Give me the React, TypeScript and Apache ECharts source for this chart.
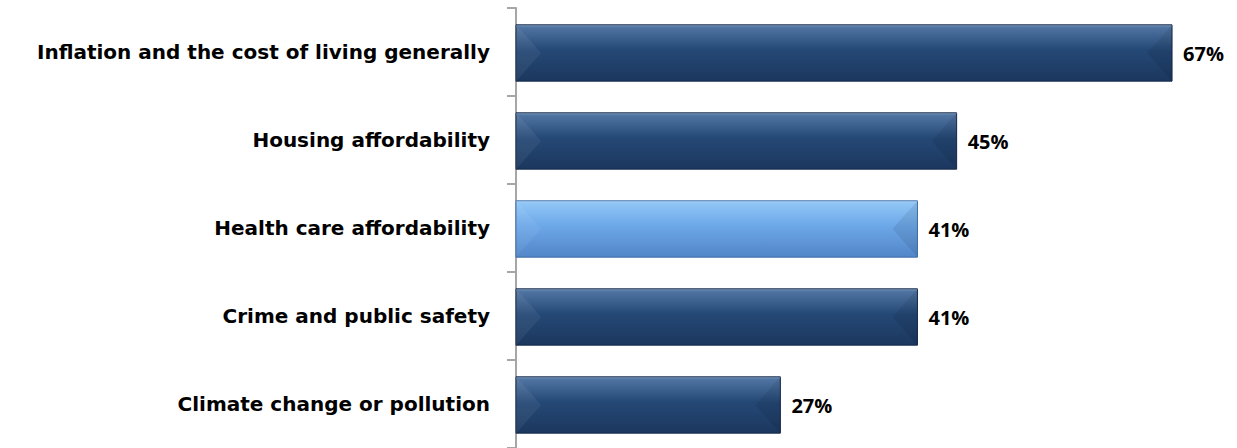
import React, { useEffect, useRef } from "react";
import * as echarts from "echarts";

const categories = [
  "Inflation and the cost of living generally",
  "Housing affordability",
  "Health care affordability",
  "Crime and public safety",
  "Climate change or pollution",
];
const values = [67, 45, 41, 41, 27];
const highlighted = [false, false, true, false, false];

const FONT = "'Open Sans', 'Noto Sans', sans-serif";
const LABEL_FONT = "'DejaVu Sans', sans-serif";

export default function App() {
  const ref = useRef<HTMLDivElement>(null);
  useEffect(() => {
    if (!ref.current) return;
    const chart = echarts.init(ref.current, undefined, { renderer: "svg" });
    const dark = {
      top: "#5579a6",
      mid: "#244875",
      bot: "#1c375f",
      edge: "#15294a",
    };
    const light = {
      top: "#93c9f7",
      mid: "#6ca7e8",
      bot: "#5286c8",
      edge: "#3f6ea8",
    };
    chart.setOption({
      animation: false,
      grid: { left: 516, top: 8, height: 445, width: 705 },
      xAxis: {
        type: "value",
        min: 0,
        max: 72,
        show: false,
      },
      yAxis: {
        type: "category",
        inverse: true,
        data: categories,
        axisLine: { show: true, lineStyle: { color: "#a6a6a6", width: 2 } },
        axisTick: { show: true, length: 9, lineStyle: { color: "#a6a6a6", width: 2 } },
        axisLabel: {
          color: "#000",
          fontFamily: LABEL_FONT,
          fontWeight: "bold",
          fontSize: 20,
          margin: 26,
        },
      },
      series: [
        {
          type: "custom",
          encode: { x: 0, y: 1 },
          data: values.map((v, i) => [v, i]),
          renderItem: (params: any, api: any) => {
            const v = api.value(0);
            const idx = api.value(1);
            const s = api.coord([0, idx]);
            const e = api.coord([v, idx]);
            const band = api.size([0, 1])[1];
            const h = band * 0.64;
            const x0 = s[0];
            const x1 = e[0];
            const y0 = s[1] - h / 2 + 1;
            const y1 = y0 + h;
            const ym = (y0 + y1) / 2;
            const bev = 25;
            const c = highlighted[idx] ? light : dark;
            return {
              type: "group",
              children: [
                {
                  type: "rect",
                  shape: { x: x0, y: y0, width: x1 - x0, height: h },
                  style: {
                    fill: new echarts.graphic.LinearGradient(0, 0, 0, 1, [
                      { offset: 0, color: c.top },
                      { offset: 0.45, color: c.mid },
                      { offset: 1, color: c.bot },
                    ]),
                    stroke: c.edge,
                    lineWidth: 1,
                  },
                },
                {
                  type: "polygon",
                  shape: { points: [[x0, y0], [x0 + bev, ym], [x0, y1]] },
                  style: { fill: "rgba(255,255,255,0.06)" },
                },
                {
                  type: "polygon",
                  shape: { points: [[x1, y0], [x1 - bev, ym], [x1, y1]] },
                  style: { fill: "rgba(0,0,0,0.08)" },
                },
                {
                  type: "line",
                  shape: { x1: x0, y1: y0 + 1, x2: x1, y2: y0 + 1 },
                  style: { stroke: "rgba(255,255,255,0.25)", lineWidth: 1 },
                },
                {
                  type: "text",
                  x: x1 + 11,
                  y: ym,
                  style: {
                    text: v + "%",
                    fill: "#000",
                    font: "bold 20px " + FONT,
                    verticalAlign: "middle",
                    align: "left",
                  },
                },
              ],
            };
          },
        },
      ],
    });
    return () => chart.dispose();
  }, []);
  return (
    <div
      ref={ref}
      style={{ position: "fixed", left: 0, top: 0, width: 1237, height: 448, background: "#fff" }}
    />
  );
}
